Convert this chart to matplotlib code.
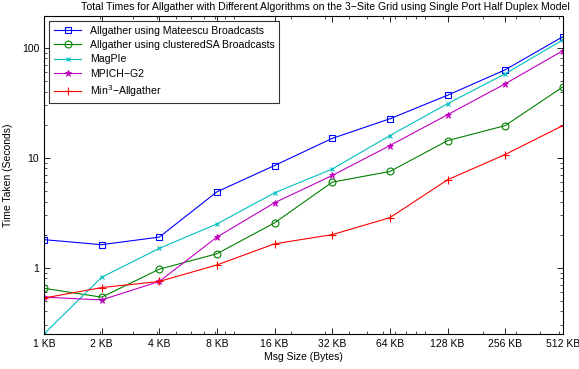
import numpy as np
import matplotlib.pyplot as plt
from matplotlib.ticker import LogLocator, NullFormatter, FixedLocator

plt.rcParams['font.family'] = ['Liberation Sans', 'DejaVu Sans']

msg_sizes = [1024 * 2**i for i in range(10)]
tick_labels = ['1 KB', '2 KB', '4 KB', '8 KB', '16 KB', '32 KB', '64 KB',
               '128 KB', '256 KB', '512 KB']

mateescu = [1.8, 1.62, 1.9, 4.9, 8.5, 15.0, 22.6, 37.0, 63.0, 126.0]
clustered_sa = [0.65, 0.54, 0.97, 1.34, 2.56, 6.0, 7.5, 14.3, 19.6, 44.0]
magpie = [0.25, 0.82, 1.5, 2.5, 4.8, 7.9, 15.9, 31.0, 58.0, 118.0]
mpich_g2 = [0.54, 0.51, 0.75, 1.9, 3.9, 6.9, 12.9, 24.6, 47.0, 94.0]
min3 = [0.53, 0.66, 0.75, 1.06, 1.65, 2.0, 2.85, 6.3, 10.7, 19.6]

fig = plt.figure(figsize=(5.79, 3.69), dpi=100)
ax = fig.add_axes([0.076, 0.095, 0.896, 0.862])

ax.plot(msg_sizes, mateescu, '-s', color='#0000ff', mfc='none', ms=4.5, mew=0.8, lw=0.8,
        label='Allgather using Mateescu Broadcasts')
ax.plot(msg_sizes, clustered_sa, '-o', color='#008000', mfc='none', ms=5, mew=0.8, lw=0.8,
        label='Allgather using clusteredSA Broadcasts')
ax.plot(msg_sizes, magpie, '-x', color='#00bfbf', ms=3.5, mew=0.8, lw=0.8, label='MagPIe')
ax.plot(msg_sizes, mpich_g2, '-*', color='#bf00bf', ms=4.5, mew=0.6, lw=0.8,
        label='MPICH\u2212G2')
ax.plot(msg_sizes, min3, '-+', color='#ff0000', ms=5.5, mew=0.8, lw=0.8,
        label='Min$^3$\u2212Allgather')

ax.set_xscale('log')
ax.set_yscale('log')
ax.set_xlim(msg_sizes[0], msg_sizes[-1])
ax.set_ylim(0.25, 195)

ax.xaxis.set_major_locator(FixedLocator(msg_sizes))
ax.set_xticklabels(tick_labels)
ax.xaxis.set_minor_locator(LogLocator(base=10, subs=np.arange(1, 10)))
ax.xaxis.set_minor_formatter(NullFormatter())
ax.set_yticks([1, 10, 100])
ax.set_yticklabels(['1', '10', '100'])
ax.yaxis.set_minor_locator(LogLocator(base=10, subs=np.arange(2, 10)))
ax.yaxis.set_minor_formatter(NullFormatter())

ax.tick_params(which='both', direction='in', top=True, right=True, labelsize=7.5)
ax.tick_params(which='major', length=4, width=0.6)
ax.tick_params(which='minor', length=2, width=0.5)
for s in ax.spines.values():
    s.set_linewidth(0.8)

ax.set_xlabel('Msg Size (Bytes)', fontsize=7.5, labelpad=2)
ax.set_ylabel('Time Taken (Seconds)', fontsize=7.5, labelpad=6)
ax.set_title('Total Times for Allgather with Different Algorithms on the 3\u2212Site Grid '
             'using Single Port Half Duplex Model', fontsize=7.6, pad=4, x=0.542)

leg = ax.legend(loc='upper left', fontsize=7.6, fancybox=False, edgecolor='black',
                handlelength=2.6, borderaxespad=0.5, labelspacing=0.4,
                borderpad=0.45)
leg.get_frame().set_linewidth(0.8)

fig.savefig('out.png', dpi=100)
